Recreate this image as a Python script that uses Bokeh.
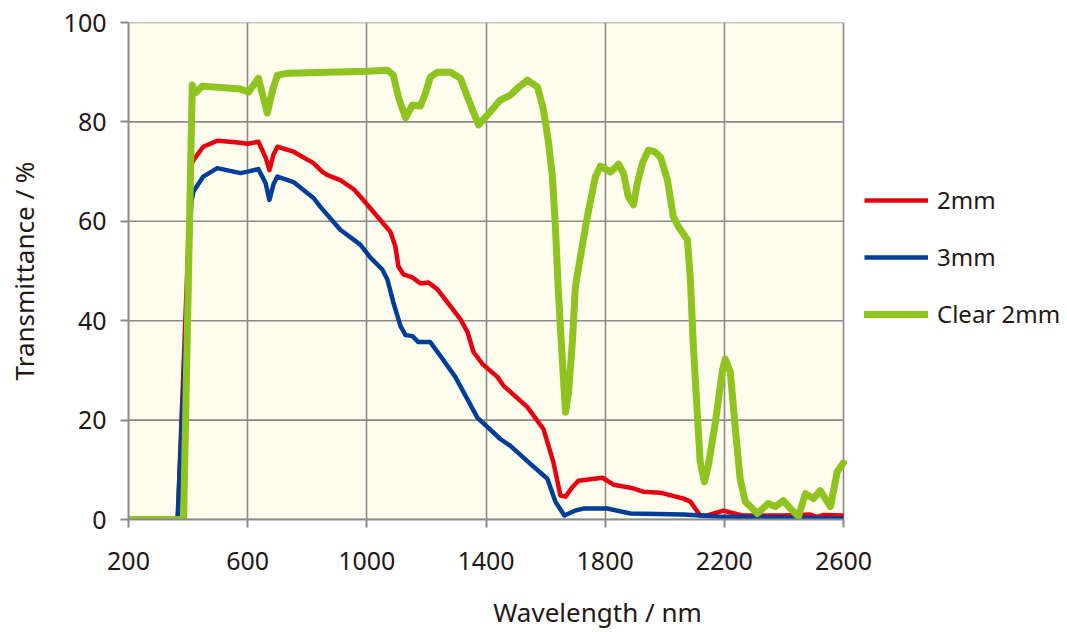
from bokeh.plotting import figure
from bokeh.models import Range1d, FixedTicker, Legend, LegendItem
from bokeh.embed import file_html
from bokeh.resources import INLINE

# ---- data ----
x_ticks = [200, 600, 1000, 1400, 1800, 2200, 2600]
y_ticks = [0, 20, 40, 60, 80, 100]

wl_2mm = [200, 365, 411, 418, 451, 498, 560, 600, 636, 660, 673, 687, 700, 754, 821, 850, 868,
          911, 955, 978, 1036, 1079, 1096, 1106, 1123, 1153, 1180, 1207, 1237, 1281, 1314, 1338,
          1358, 1388, 1438, 1459, 1539, 1593, 1626, 1650, 1667, 1690, 1710, 1791, 1828, 1885,
          1928, 1985, 2063, 2086, 2119, 2143, 2197, 2260, 2398, 2489, 2510, 2530, 2600]
t_2mm = [0, 0, 71.5, 72.3, 75.0, 76.2, 75.9, 75.6, 76.0, 72.9, 70.3, 73.5, 75.0, 74.0, 71.7, 70.0, 69.3,
         68.3, 66.5, 65.0, 60.9, 57.9, 54.9, 50.9, 49.3, 48.7, 47.5, 47.7, 46.3, 42.9, 40.3, 37.7,
         33.7, 31.3, 28.7, 26.9, 22.6, 18.2, 11.6, 4.8, 4.6, 6.5, 7.8, 8.4, 7.0, 6.4,
         5.6, 5.4, 4.2, 3.6, 0.8, 0.8, 1.8, 0.8, 0.8, 1.0, 0.5, 0.9, 0.8]

wl_3mm = [200, 365, 411, 418, 451, 498, 576, 600, 636, 660, 673, 687, 700, 754, 821, 844, 911, 978,
          1012, 1052, 1069, 1089, 1113, 1130, 1153, 1173, 1213, 1247, 1297, 1371, 1448, 1482, 1549,
          1606, 1633, 1663, 1700, 1727, 1807, 1885, 2063, 2177, 2400, 2600]
t_3mm = [0, 0, 64.0, 66.0, 69.0, 70.7, 69.7, 70.0, 70.5, 67.7, 64.3, 67.5, 69.0, 67.9, 64.7, 62.9, 58.3, 55.3,
         52.7, 50.3, 48.3, 43.7, 38.9, 37.1, 36.9, 35.7, 35.7, 32.9, 28.7, 20.5, 16.2, 14.8, 11.2,
         8.2, 3.6, 0.8, 1.8, 2.2, 2.2, 1.2, 1.0, 0.6, 0.4, 0.2]

wl_clear = [200, 385, 414, 424, 448, 576, 603, 636, 650, 666, 684, 700, 734, 1002, 1069, 1089, 1106,
            1130, 1153, 1180, 1197, 1213, 1237, 1281, 1314, 1338, 1375, 1405, 1448, 1482, 1510,
            1539, 1573, 1593, 1610, 1623, 1633, 1643, 1656, 1667, 1677, 1690, 1700, 1717, 1740,
            1767, 1784, 1818, 1845, 1861, 1878, 1895, 1908, 1925, 1945, 1965, 1986, 2009, 2029,
            2046, 2076, 2086, 2096, 2109, 2119, 2133, 2146, 2170, 2193, 2203, 2220, 2237, 2253,
            2270, 2311, 2347, 2371, 2398, 2422, 2449, 2472, 2499, 2522, 2556, 2579, 2600]
t_clear = [0, 0, 87.4, 85.8, 87.2, 86.6, 86.0, 88.8, 85.5, 81.8, 86.5, 89.4, 89.8, 90.2, 90.4, 89.4, 85.0,
           80.8, 83.4, 83.2, 85.8, 89.0, 90.0, 90.0, 88.8, 85.0, 79.4, 81.4, 84.4, 85.4, 87.0,
           88.4, 87.0, 82.4, 75.8, 68.9, 58.9, 45.7, 32.3, 21.6, 25.6, 35.7, 46.9, 52.9, 60.9,
           68.9, 71.1, 69.9, 71.5, 69.7, 64.9, 63.3, 67.7, 71.7, 74.3, 74.0, 72.9, 68.3, 60.9,
           58.9, 56.3, 48.3, 34.9, 21.6, 11.6, 7.6, 10.8, 19.6, 29.7, 32.3, 29.7, 18.2, 8.2,
           3.6, 1.2, 3.2, 2.6, 3.8, 2.2, 0.6, 5.2, 4.2, 5.8, 2.6, 9.6, 11.4]

labels = ["2mm", "3mm", "Clear 2mm"]
colors = ["#E60012", "#003E98", "#8FC31F"]

FONT = "Noto Sans"
TXT = "#231815"
GRID = "#8a8a8a"
CREAM = "#FEFCEC"

W, H = 1066, 632
FL, FR, FT, FB = 128, 843, 22, 521          # plot-area edges in pixels
x0, x1 = x_ticks[0], x_ticks[-1]
x_end = x1 + (W - FR) * (x1 - x0) / (FR - FL)  # frame extended to the right for the legend

p = figure(width=W, height=H, output_backend="svg", toolbar_location=None,
           x_range=Range1d(x0, x_end), y_range=Range1d(y_ticks[0], y_ticks[-1]))
p.min_border_left = FL
p.min_border_top = FT
p.min_border_right = 0
p.min_border_bottom = H - FB

p.background_fill_color = "white"
p.border_fill_color = "white"
p.outline_line_color = None

# cream plot area
p.quad(left=x0, right=x1, bottom=y_ticks[0], top=y_ticks[-1],
       fill_color=CREAM, line_color=None, level="image")

p.xaxis.ticker = FixedTicker(ticks=x_ticks)
p.yaxis.ticker = FixedTicker(ticks=y_ticks)
p.xaxis.bounds = (x0, x1)
p.xgrid.ticker = FixedTicker(ticks=x_ticks)
p.xgrid.grid_line_color = GRID
p.xgrid.grid_line_width = 1.6
p.ygrid.visible = False
# horizontal grid lines (and top border), limited to the plot area
p.segment(x0=[x0] * len(y_ticks), x1=[x1] * len(y_ticks), y0=y_ticks, y1=y_ticks,
          line_color=GRID, line_width=1.6, level="underlay")

for ax in (p.xaxis, p.yaxis):
    ax.axis_line_color = GRID
    ax.axis_line_width = 2
    ax.major_tick_line_color = GRID
    ax.major_tick_line_width = 2
    ax.major_tick_out = 8
    ax.major_tick_in = 0
    ax.minor_tick_line_color = None
    ax.major_label_text_font = FONT
    ax.major_label_text_font_size = "25px"
    ax.major_label_text_color = TXT
    ax.axis_label_text_font = FONT
    ax.axis_label_text_font_size = "26px"
    ax.axis_label_text_font_style = "normal"
    ax.axis_label_text_color = TXT

p.xaxis.axis_label = "Wavelength / nm"
p.yaxis.axis_label = "Transmittance / %"
p.xaxis.major_label_standoff = 24
p.xaxis.axis_label_standoff = 21
p.yaxis.major_label_standoff = 14
p.yaxis.axis_label_standoff = 19

r1 = p.line(wl_2mm, t_2mm, line_color=colors[0], line_width=4.5, line_join="round")
r2 = p.line(wl_3mm, t_3mm, line_color=colors[1], line_width=4.5, line_join="round")
r3 = p.line(wl_clear, t_clear, line_color=colors[2], line_width=7, line_join="round", line_cap="round")

legend = Legend(items=[LegendItem(label=labels[0], renderers=[r1]),
                       LegendItem(label=labels[1], renderers=[r2]),
                       LegendItem(label=labels[2], renderers=[r3])],
                location=(864 - FL, FB - 332))
legend.margin = 0
legend.padding = 0
legend.border_line_color = None
legend.background_fill_alpha = 0
legend.glyph_width = 64
legend.glyph_height = 30
legend.label_height = 30
legend.spacing = 24
legend.label_standoff = 9
legend.label_text_font = FONT
legend.label_text_font_size = "24px"
legend.label_text_color = TXT
p.add_layout(legend, "center")

open("out.html", "w").write(file_html(p, INLINE))
